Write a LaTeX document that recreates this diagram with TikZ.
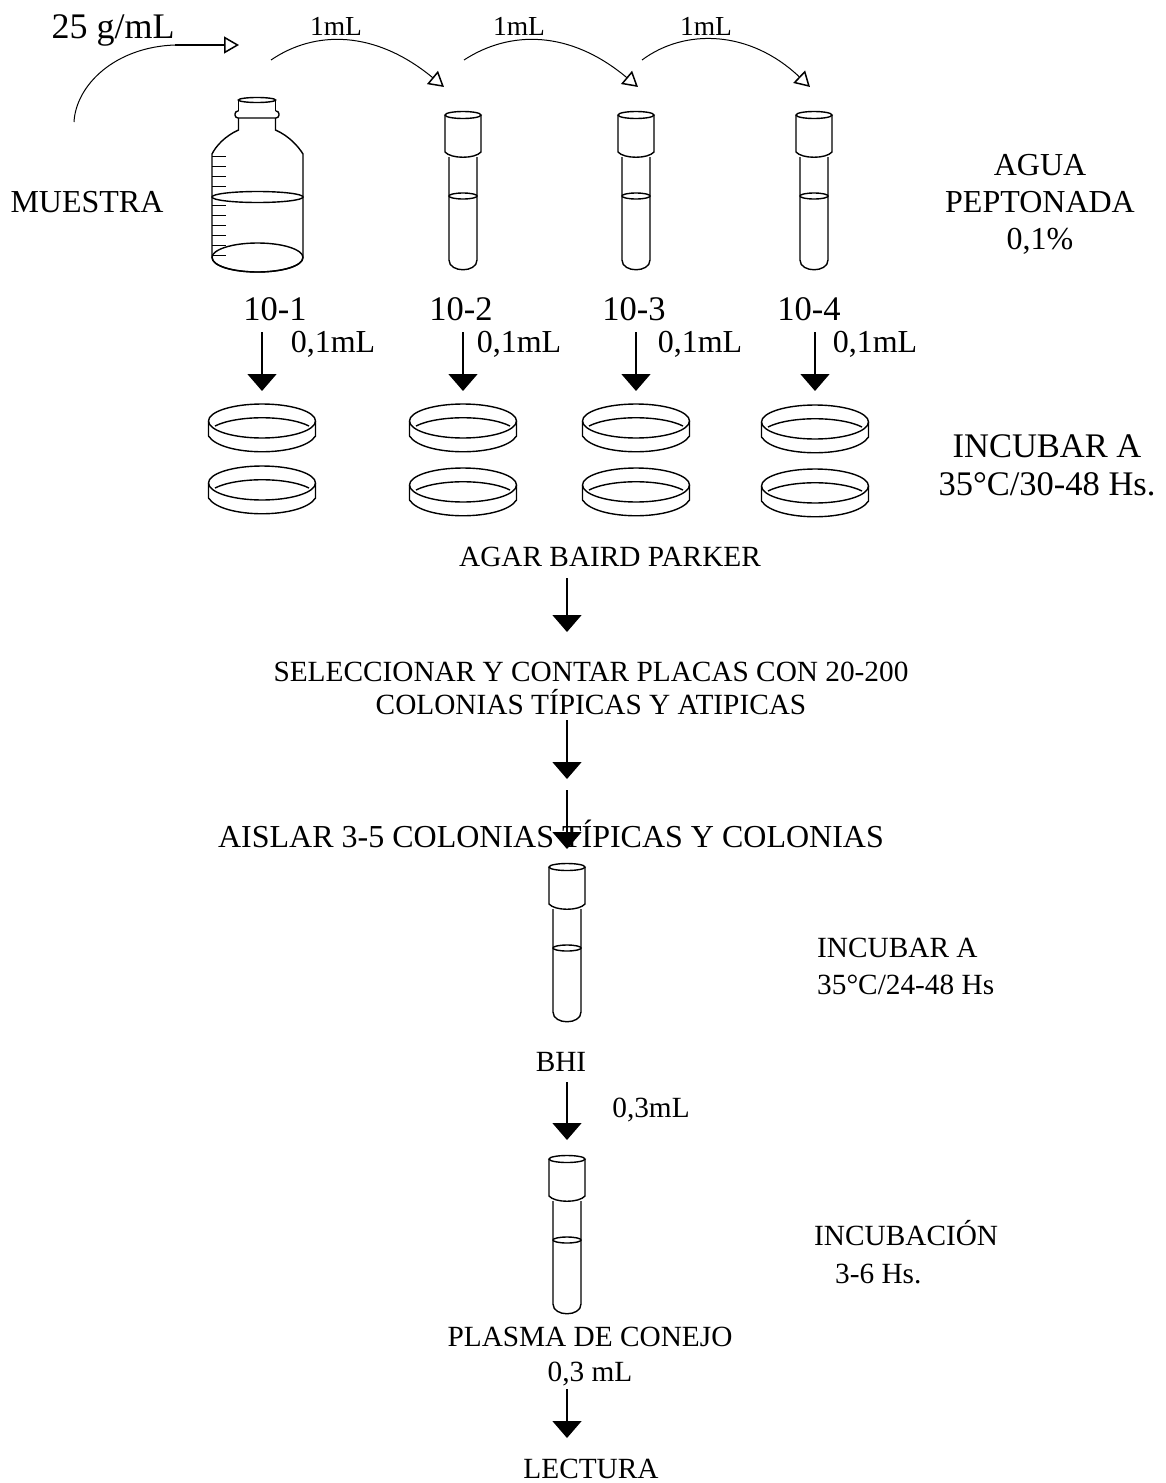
\documentclass[tikz,border=0pt]{standalone}
\usepackage{fontspec}
\setmainfont{Liberation Serif}
\usetikzlibrary{arrows.meta}

\tikzset{
    txtA/.style={inner sep=0pt, align=center, font=\fontsize{32}{36}\selectfont},
    txtB/.style={inner sep=0pt, align=center, font=\fontsize{29.3}{33}\selectfont},
    txtC/.style={inner sep=0pt, align=center, font=\fontsize{34.5}{38}\selectfont},
    txtD/.style={inner sep=0pt, font=\fontsize{27.5}{30}\selectfont},
    flecha/.style={line width=1.5pt, -{Triangle[length=17pt, width=29pt]}},
    curva/.style={line width=1pt, -{Triangle[open, length=15pt, width=17pt, line width=1.5pt]}},
    contorno/.style={line width=1.4pt},
    pics/tubo/.style={code={
        \draw[contorno] (0,0) ellipse (18 and 3.5);
        \draw[contorno] (-18,0) -- (-18,37) .. controls (-12,44) and (12,44) .. (18,37) -- (18,0);
        \draw[contorno] (-14,42) -- (-14,145) .. controls (-14,158) and (14,158) .. (14,145) -- (14,42);
        \draw[contorno] (0,81) ellipse (14 and 3);
    }},
    pics/placa/.style={code={
        \draw[contorno] (0,0) ellipse (53.5 and 17);
        \draw[contorno] (-53.5,0) -- (-53.5,15) .. controls (-40,36) and (40,36) .. (53.5,15) -- (53.5,0);
        \draw[contorno] (-47,5) .. controls (-25,-6) and (25,-6) .. (47,5);
    }}
}

\begin{document}
\begin{tikzpicture}[x=1pt, y=-1pt]
    \useasboundingbox (0,0) rectangle (1165,1483);

    % botella
    \draw[contorno] (257,100) ellipse (18.5 and 2.5);
    \draw[contorno] (238.5,100) -- (238.5,111) (275.5,100) -- (275.5,111);
    \draw[contorno, rounded corners=3pt] (238.5,111) -- (235,111) -- (235,118) -- (279,118) -- (279,111) -- (275.5,111);
    \draw[contorno] (238.5,118) -- (238.5,130) .. controls (225,136) and (216,146) .. (212,154)
        -- (212,257) .. controls (212,277) and (303,277) .. (303,257)
        -- (303,154) .. controls (298,146) and (289,136) .. (275.5,130) -- (275.5,118);
    \draw[contorno] (257.5,257.5) ellipse (45.5 and 14.5);
    \draw[contorno] (257.5,197) ellipse (45.5 and 5.5);
    \foreach \yy in {156,166,176,186,205,215,225,235,245,255}
        \draw[line width=0.9pt] (212,\yy) -- (226,\yy);

    % tubos
    \foreach \xx/\yy in {463/115, 636/115, 814/115, 567/867, 567/1159}
        \pic at (\xx,\yy) {tubo};

    % placas
    \foreach \xx/\yy/\zz in {262/421/483, 463/421/485, 636/421/485, 815/422/486} {
        \pic at (\xx,\yy) {placa};
        \pic at (\xx,\zz) {placa};
    }

    % textos
    \node[txtC, font=\fontsize{36}{40}\selectfont] (conc) at (113,30) {25 g/mL};
    \node[txtD] (vol1) at (336,26) {1mL};
    \node[txtD] (vol2) at (519,26) {1mL};
    \node[txtD] (vol3) at (706,26) {1mL};
    \node[txtA] (muestra) at (87,202) {MUESTRA};
    \node[txtA, font=\fontsize{32}{37}\selectfont] (agua) at (1040,204) {AGUA\\PEPTONADA\\0,1\%};
    \foreach \nn/\xx/\lab in {a/275/10-1, b/461/10-2, c/634/10-3, d/809/10-4}
        \node[txtC] (dil\nn) at (\xx,309) {\lab};
    \foreach \nn/\xx in {a/333, b/519, c/700, d/875}
        \node[txtA] (sie\nn) at (\xx,344) {0,1mL};
    \node[txtC] (incA) at (1047,465) {INCUBAR A\\35°C/30-48 Hs.};
    \node[txtB] (agar) at (610,557) {AGAR BAIRD PARKER};
    \node[txtB] (selec) at (591,688) {SELECCIONAR Y CONTAR PLACAS CON 20-200\\COLONIAS TÍPICAS Y ATIPICAS};
    \node[txtA] (aislar) at (551,834) {AISLAR 3-5 COLONIAS TÍPICAS Y COLONIAS};
    \node[txtB, align=left, anchor=west, font=\fontsize{29.3}{37}\selectfont] (incB) at (817,966) {INCUBAR A\\35°C/24-48 Hs};
    \node[txtB] (bhi) at (561,1062) {BHI};
    \node[txtB] (vol4) at (651,1110) {0,3mL};
    \node[txtB, align=left, anchor=west, font=\fontsize{29.3}{38}\selectfont] (incC) at (814,1252) {INCUBACIÓN\\\hspace*{21pt}3-6 Hs.};
    \node[txtB, font=\fontsize{29.3}{35}\selectfont] (plasma) at (590,1357) {PLASMA DE CONEJO\\0,3 mL};
    \node[txtB] (lectura) at (591,1469) {LECTURA};

    % puntos de las flechas
    \coordinate (iniM) at (74,122);
    \coordinate (medM) at (175,45);
    \coordinate (finM) at (239,45);
    \coordinate (inia) at (271,60);
    \coordinate (fina) at (444,87);
    \coordinate (inib) at (464,60);
    \coordinate (finb) at (638,87);
    \coordinate (inic) at (642,60);
    \coordinate (finc) at (810,87);
    \foreach \nn/\xx in {a/262, b/463, c/636, d/815} {
        \coordinate (arr\nn) at (\xx,332);
        \coordinate (aba\nn) at (\xx,391);
    }
    \foreach \nn/\ya/\yb in {e/578/632, f/720/779, g/790/849, h/1082/1140, i/1389/1438} {
        \coordinate (arr\nn) at (567,\ya);
        \coordinate (aba\nn) at (567,\yb);
    }

    % flechas curvas
    \draw[line width=1pt] (iniM) .. controls (76,85) and (115,47) .. (medM);
    \draw[line width=1.5pt, -{Triangle[open, length=15pt, width=17pt, line width=1.5pt]}] (medM) -- (finM);
    \draw[curva] (inia) .. controls (315,30) and (375,30) .. (fina);
    \draw[curva] (inib) .. controls (510,30) and (570,30) .. (finb);
    \draw[curva] (inic) .. controls (685,28) and (750,30) .. (finc);

    % flechas rectas
    \foreach \nn in {a,b,c,d,e,f,g,h,i}
        \draw[flecha] (arr\nn) -- (aba\nn);
\end{tikzpicture}
\end{document}
